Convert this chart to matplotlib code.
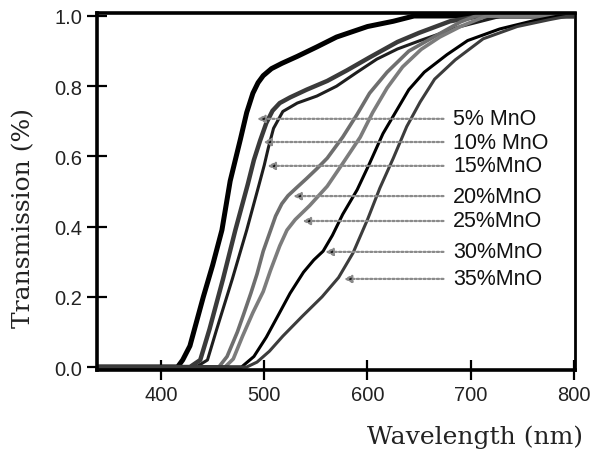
import matplotlib
matplotlib.use("Agg")
import matplotlib.pyplot as plt

# transmission curves (wavelength in nm, T as fraction)
wl_05 = [338, 416, 421, 428, 441, 450, 459, 467, 477, 483, 489, 494, 499, 507, 517, 532, 551, 570, 600, 625, 645, 800]
t_05 = [0, 0, 0.02, 0.06, 0.20, 0.29, 0.39, 0.53, 0.65, 0.725, 0.78, 0.81, 0.83, 0.85, 0.865, 0.885, 0.912, 0.94, 0.97, 0.985, 1.0, 1.0]

wl_10 = [338, 428, 438, 447, 460, 472, 484, 490, 496, 502, 508, 515, 525, 541, 561, 580, 602, 629, 650, 680, 710, 800]
t_10 = [0, 0, 0.02, 0.108, 0.25, 0.39, 0.52, 0.59, 0.645, 0.695, 0.73, 0.752, 0.768, 0.79, 0.815, 0.845, 0.882, 0.926, 0.952, 0.985, 1.0, 1.0]

wl_15 = [338, 434, 445, 454, 469, 483, 495, 500, 504, 509, 518, 532, 551, 570, 590, 609, 629, 651, 690, 730, 800]
t_15 = [0, 0, 0.02, 0.108, 0.25, 0.39, 0.52, 0.575, 0.625, 0.68, 0.728, 0.752, 0.772, 0.80, 0.84, 0.877, 0.906, 0.93, 0.97, 1.0, 1.0]

wl_20 = [338, 456, 464, 474, 480, 487, 493, 499, 505, 511, 517, 523, 531, 541, 551, 561, 576, 590, 602, 619, 640, 667, 690, 705, 800]
t_20 = [0, 0, 0.03, 0.10, 0.15, 0.21, 0.265, 0.33, 0.38, 0.43, 0.465, 0.488, 0.51, 0.537, 0.565, 0.595, 0.655, 0.72, 0.78, 0.84, 0.90, 0.945, 0.983, 1.0, 1.0]

wl_25 = [338, 462, 470, 479, 489, 499, 506, 515, 522, 530, 544, 561, 576, 593, 605, 619, 634, 652, 670, 690, 715, 800]
t_25 = [0, 0, 0.023, 0.088, 0.155, 0.215, 0.275, 0.345, 0.39, 0.42, 0.46, 0.515, 0.58, 0.655, 0.725, 0.795, 0.855, 0.905, 0.94, 0.97, 1.0, 1.0]

wl_30 = [338, 478, 490, 502, 514, 525, 538, 548, 557, 566, 576, 590, 602, 615, 625, 640, 655, 677, 697, 728, 760, 785, 800]
t_30 = [0, 0, 0.03, 0.085, 0.15, 0.21, 0.27, 0.305, 0.33, 0.375, 0.435, 0.505, 0.58, 0.665, 0.715, 0.79, 0.84, 0.89, 0.93, 0.963, 0.986, 1.0, 1.0]

wl_35 = [338, 483, 493, 505, 518, 537, 556, 572, 586, 600, 612, 625, 638, 651, 665, 685, 712, 745, 777, 795, 800]
t_35 = [0, 0, 0.014, 0.045, 0.088, 0.145, 0.2, 0.255, 0.325, 0.42, 0.51, 0.595, 0.685, 0.755, 0.82, 0.875, 0.935, 0.97, 0.99, 1.0, 1.0]

labels = ["5% MnO", "10% MnO", "15%MnO", "20%MnO", "25%MnO", "30%MnO", "35%MnO"]
# where each label arrow points (wavelength) and its height
arrow_tip = [493, 499, 503, 528, 537, 559, 577]
label_t = [0.707, 0.641, 0.573, 0.487, 0.416, 0.328, 0.251]

curves = [(wl_05, t_05), (wl_10, t_10), (wl_15, t_15), (wl_20, t_20),
          (wl_25, t_25), (wl_30, t_30), (wl_35, t_35)]
colors = ["#000000", "#3a3a3a", "#1e1e1e", "#6e6e6e", "#7c7c7c", "#000000", "#3c3c3c"]
widths = [3.6, 3.2, 2.2, 2.6, 2.6, 2.2, 2.2]

fig = plt.figure(figsize=(5.9, 4.52), dpi=100)
ax = fig.add_axes([0.1644, 0.1792, 0.8102, 0.7898])

for (wl, t), c, w in zip(curves, colors, widths):
    ax.plot(wl, t, color=c, lw=w, solid_capstyle="butt", solid_joinstyle="round")

for lab, tip, ty in zip(labels, arrow_tip, label_t):
    ax.annotate(lab, xy=(tip, ty), xytext=(683, ty), ha="left", va="center",
                fontsize=15.5, family="Liberation Sans", color="#111111",
                arrowprops=dict(arrowstyle="-|>", linestyle=(0, (1, 1)), lw=1.6,
                                ec="#8a8a8a", fc="#111111", mutation_scale=11,
                                shrinkA=5, shrinkB=0))

ax.set_xlim(338, 801)
ax.set_ylim(-0.0085, 1.0085)
ax.set_xticks([400, 500, 600, 700, 800])
ax.set_yticks([0.0, 0.2, 0.4, 0.6, 0.8, 1.0])
ax.set_yticklabels(["0.0", "0.2", "0.4", "0.6", "0.8", "1.0"])
ax.tick_params(direction="inout", length=15, width=1.6, pad=3, labelsize=14.5)
for lab in ax.get_xticklabels() + ax.get_yticklabels():
    lab.set_family("Liberation Sans")
    lab.set_color("#222222")
for side in ["left", "bottom", "top"]:
    ax.spines[side].set_linewidth(2.6)
ax.spines["right"].set_linewidth(2.0)

fig.text(24 / 590, 1 - 218 / 452, "Transmission (%)", rotation=90, ha="center", va="center",
         fontsize=18, family="DejaVu Serif", color="#222222")
fig.text(475 / 590, 1 - 437 / 452, "Wavelength (nm)", ha="center", va="center",
         fontsize=18, family="DejaVu Serif", color="#222222")

fig.savefig("out.png", dpi=100)
